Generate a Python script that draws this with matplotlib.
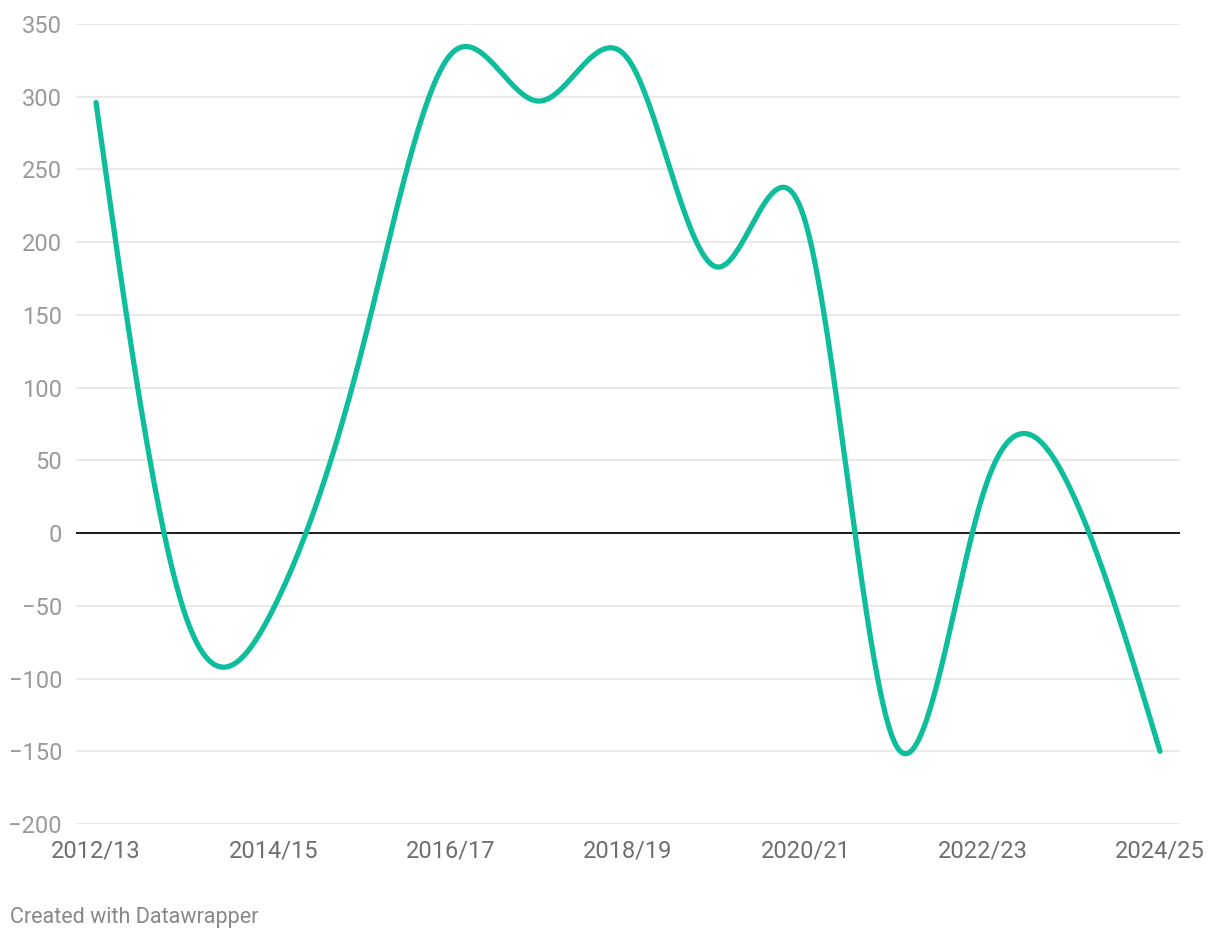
import numpy as np
import matplotlib
matplotlib.use("Agg")
import matplotlib.pyplot as plt

# ---- data ----
seasons = ["2012/13", "2013/14", "2014/15", "2015/16", "2016/17", "2017/18", "2018/19",
           "2019/20", "2020/21", "2021/22", "2022/23", "2023/24", "2024/25"]
values = [296, -55, -52, 126, 329, 297, 326, 183, 214, -143, 26, 29, -150]
xtick_labels = ["2012/13", "2014/15", "2016/17", "2018/19", "2020/21", "2022/23", "2024/25"]
yticks = [350, 300, 250, 200, 150, 100, 50, 0, -50, -100, -150, -200]

LINE = "#0dbd9c"

plt.rcParams["font.family"] = ["Roboto", "DejaVu Sans"]


def natural_curve(xs, ys, n=80):
    """Natural cubic spline drawn through the points (like d3.curveNatural)."""
    xs = np.asarray(xs, float)
    ys = np.asarray(ys, float)
    m = len(xs)
    h = np.diff(xs)
    A = np.zeros((m, m))
    r = np.zeros(m)
    A[0, 0] = A[-1, -1] = 1
    for i in range(1, m - 1):
        A[i, i - 1] = h[i - 1]
        A[i, i] = 2 * (h[i - 1] + h[i])
        A[i, i + 1] = h[i]
        r[i] = 6 * ((ys[i + 1] - ys[i]) / h[i] - (ys[i] - ys[i - 1]) / h[i - 1])
    M = np.linalg.solve(A, r)
    ox, oy = [], []
    for i in range(m - 1):
        t = np.linspace(0, 1, n)
        if i > 0:
            t = t[1:]
        hh = h[i]
        xx = xs[i] + t * hh
        yy = (M[i] * (1 - t) ** 3 + M[i + 1] * t ** 3) * hh ** 2 / 6 \
            + (ys[i] - M[i] * hh ** 2 / 6) * (1 - t) + (ys[i + 1] - M[i + 1] * hh ** 2 / 6) * t
        ox.append(xx)
        oy.append(yy)
    return np.concatenate(ox), np.concatenate(oy)


fig = plt.figure(figsize=(12.2, 9.4), dpi=100)
ax = fig.add_axes([76 / 1220, (940 - 824) / 940, 1104 / 1220, 800 / 940])

x = np.arange(len(seasons))
cx, cy = natural_curve(x, values)

px = 1064 / 12.0
ax.set_xlim(-20 / px, 12 + 20 / px)
ax.set_ylim(-200, 350)

for yv in yticks:
    if yv == 0:
        continue
    ax.axhline(yv, color="#e3e3e3", lw=1.1, zorder=1)
ax.axhline(0, color="#1a1a1a", lw=1.4, zorder=2)

ax.plot(cx, cy, color=LINE, lw=3.8, solid_capstyle="round", solid_joinstyle="round", zorder=3)

for s in ax.spines.values():
    s.set_visible(False)
ax.set_yticks(yticks)
ax.set_yticklabels([("\u2212" + str(-v)) if v < 0 else str(v) for v in yticks])
ax.tick_params(axis="y", length=0, pad=10, labelsize=17, labelcolor="#9a9a9a")
ax.set_xticks([seasons.index(s) for s in xtick_labels])
ax.set_xticklabels(xtick_labels)
ax.tick_params(axis="x", length=0, pad=11.5, labelsize=17, labelcolor="#6e6e6e")

fig.text(10 / 1220, 1 - 918 / 940, "Created with Datawrapper", fontsize=15.5,
         color="#888888", ha="left", va="center")

fig.savefig("out.png", dpi=100)
